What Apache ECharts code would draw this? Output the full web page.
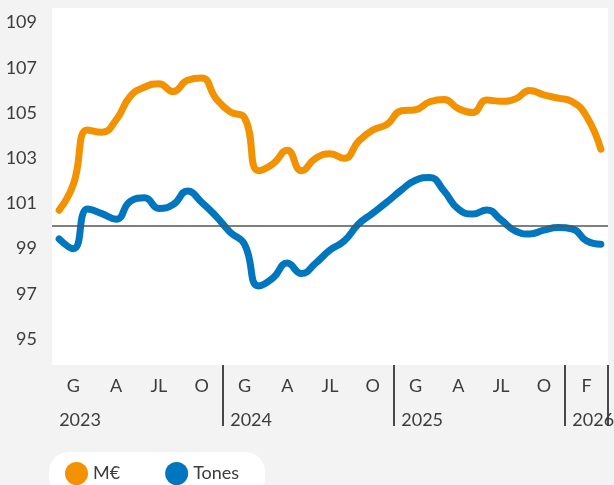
<!DOCTYPE html>
<html>
<head>
<meta charset="utf-8">
<script src="https://cdn.jsdelivr.net/npm/echarts@6/dist/echarts.min.js"></script>
<style>
html,body{margin:0;padding:0;background:#f3f3f3;}
#chart{width:614px;height:485px;}
</style>
</head>
<body>
<div id="chart"></div>
<script>
const categories = [
  '2023-01','2023-02','2023-03','2023-04','2023-05','2023-06','2023-07','2023-08','2023-09','2023-10','2023-11','2023-12',
  '2024-01','2024-02','2024-03','2024-04','2024-05','2024-06','2024-07','2024-08','2024-09','2024-10','2024-11','2024-12',
  '2025-01','2025-02','2025-03','2025-04','2025-05','2025-06','2025-07','2025-08','2025-09','2025-10','2025-11','2025-12',
  '2026-01','2026-02','2026-03'
];
const monthTickLabels = [
  '','G','','','A','','','JL','','','O','',
  '','G','','','A','','','JL','','','O','',
  '','G','','','A','','','JL','','','O','',
  '','F',''
];
const yearLabels = ['2023','2024','2025','2026'];
const yearStartIndex = [0, 12, 24, 36];
const yTicks = [95, 97, 99, 101, 103, 105, 107, 109];
const referenceValue = 100;

const seriesNames = ['M€', 'Tones'];
const eurValues = [
  100.7, 101.85, 104.25, 104.15, 104.7, 105.75, 106.15, 106.3, 105.95, 106.45, 106.55, 105.65,
  105.05, 104.8, 102.45, 102.75, 103.35, 102.45, 103.0, 103.2, 103.0, 103.75, 104.25, 104.5,
  105.1, 105.15, 105.5, 105.6, 105.2, 105.02, 105.58, 105.52, 105.62, 106.0, 105.8, 105.66,
  105.5, 104.85, 103.4
];
const tonesValues = [
  99.43, 99.0, 100.75, 100.55, 100.3, 101.1, 101.25, 100.78, 100.95, 101.55, 101.05, 100.44,
  99.73, 99.2, 97.35, 97.7, 98.36, 97.9, 98.36, 98.94, 99.34, 100.09, 100.57, 101.06,
  101.59, 102.03, 102.15, 101.55, 100.75, 100.53, 100.71, 100.27, 99.78, 99.65, 99.82, 99.93,
  99.87, 99.34, 99.19
];

const FONT = 'Lato, "Noto Sans", sans-serif';
const TEXT = '#3c3c3c';

const chart = echarts.init(document.getElementById('chart'), null, {renderer: 'canvas'});
chart.setOption({
  animation: false,
  backgroundColor: '#f3f3f3',
  textStyle: {fontFamily: FONT},
  grid: {left: 52, right: 6, top: 8, bottom: 120, show: true, backgroundColor: '#ffffff', borderWidth: 0, outerBoundsMode: 'none'},
  legend: {
    data: seriesNames,
    left: 49, top: 452,
    padding: [10, 26, 12, 16],
    backgroundColor: '#ffffff',
    borderRadius: 20,
    icon: 'circle',
    itemWidth: 23, itemHeight: 23,
    itemGap: 45,
    textStyle: {fontFamily: FONT, fontSize: 18, color: TEXT}
  },
  xAxis: [{
    type: 'category',
    data: categories,
    boundaryGap: true,
    position: 'bottom',
    axisLine: {show: false},
    axisTick: {show: false},
    splitLine: {show: false},
    axisLabel: {
      interval: 0, margin: 12, fontSize: 18, color: TEXT, fontFamily: FONT,
      formatter: (v, i) => monthTickLabels[i]
    }
  }, {
    type: 'category',
    data: categories,
    boundaryGap: true,
    position: 'bottom',
    axisLine: {show: false},
    axisTick: {
      show: true, length: 61,
      interval: (i) => yearStartIndex.indexOf(i) > 0,
      lineStyle: {color: '#111', width: 1.5}
    },
    splitLine: {show: false},
    axisLabel: {
      interval: (i) => yearStartIndex.indexOf(i) >= 0,
      margin: 46, fontSize: 18, color: TEXT, fontFamily: FONT, align: 'left',
      formatter: (v, i) => { const k = yearStartIndex.indexOf(i); return k >= 0 ? yearLabels[k] : ''; }
    }
  }],
  yAxis: {
    type: 'value',
    min: 93.85, max: 109.65,
    axisLine: {show: false},
    axisTick: {show: false},
    splitLine: {show: false},
    axisLabel: {customValues: yTicks, margin: 15, fontSize: 18, color: TEXT, fontFamily: FONT}
  },
  series: [{
    name: 'ref', type: 'line', data: [], z: 1, silent: true,
    markLine: {
      silent: true, symbol: ['none', 'none'], label: {show: false},
      lineStyle: {color: '#555', width: 1.5, type: 'solid'},
      data: [{yAxis: referenceValue}]
    }
  }, {
    name: seriesNames[0], type: 'line', data: eurValues, smooth: 0.5, showSymbol: false, z: 3,
    itemStyle: {color: '#f39200'},
    lineStyle: {color: '#f39200', width: 7, cap: 'round', join: 'round'}
  }, {
    name: seriesNames[1], type: 'line', data: tonesValues, smooth: 0.5, showSymbol: false, z: 3,
    itemStyle: {color: '#0076be'},
    lineStyle: {color: '#0076be', width: 7, cap: 'round', join: 'round'}
  }]
});
</script>
</body>
</html>
